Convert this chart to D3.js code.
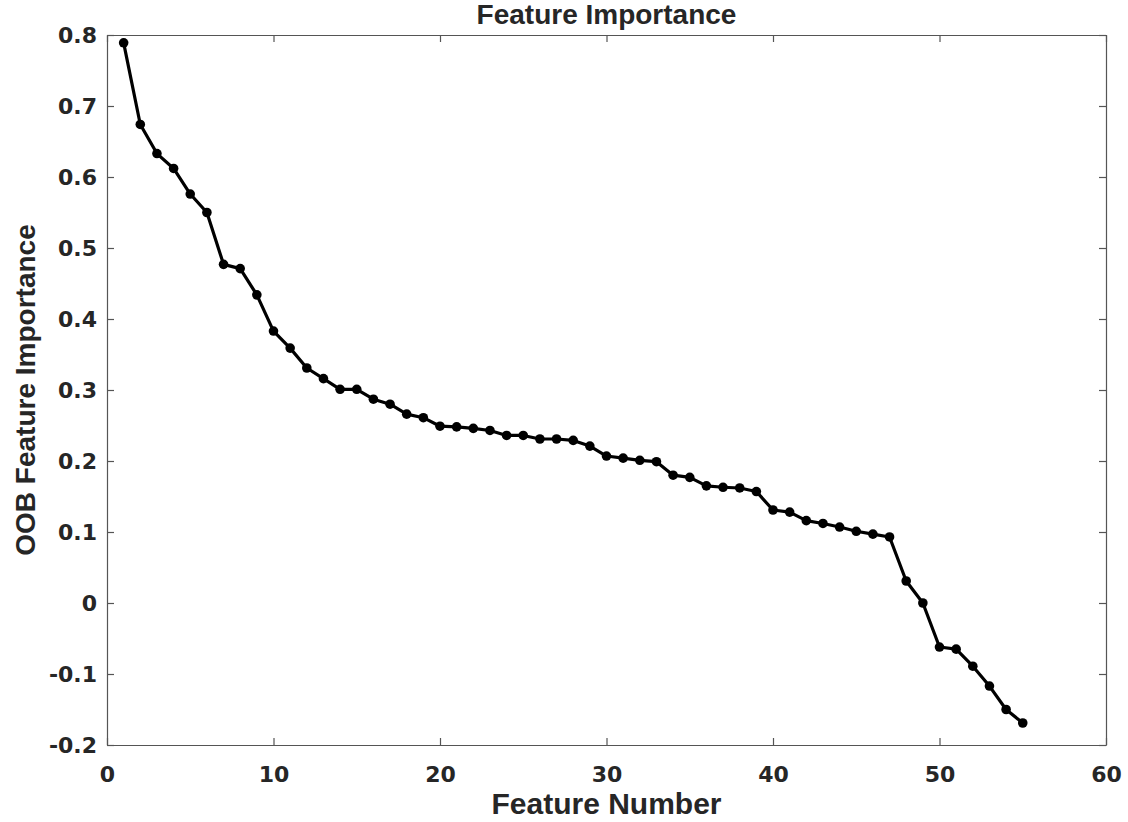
<!DOCTYPE html>
<html>
<head>
<meta charset="utf-8">
<script src="https://cdn.jsdelivr.net/npm/d3@7"></script>
<style>
  body { margin: 0; background: #fff; }
  .tick text { font-family: 'DejaVu Sans', sans-serif; font-weight: bold; font-size: 22px; fill: #262626; }
  .lbl { font-family: 'Liberation Sans', Arial, sans-serif; font-weight: bold; fill: #262626; }
</style>
</head>
<body>
<svg id="chart"></svg>
<script>
// feature numbers and their OOB importance
const featureNumbers = [1, 2, 3, 4, 5, 6, 7, 8, 9, 10, 11, 12, 13, 14, 15, 16, 17, 18, 19, 20,
  21, 22, 23, 24, 25, 26, 27, 28, 29, 30, 31, 32, 33, 34, 35, 36, 37, 38, 39, 40,
  41, 42, 43, 44, 45, 46, 47, 48, 49, 50, 51, 52, 53, 54, 55];
const importance = [0.789, 0.674, 0.633, 0.612, 0.576, 0.550, 0.477, 0.471, 0.434, 0.383,
  0.359, 0.331, 0.316, 0.301, 0.301, 0.287, 0.280, 0.266, 0.261, 0.249,
  0.248, 0.246, 0.243, 0.236, 0.236, 0.231, 0.231, 0.229, 0.221, 0.207,
  0.204, 0.201, 0.199, 0.180, 0.177, 0.165, 0.163, 0.162, 0.157, 0.131,
  0.128, 0.116, 0.112, 0.107, 0.101, 0.097, 0.093, 0.031, 0.000, -0.062,
  -0.065, -0.089, -0.117, -0.150, -0.169];

const xTicks = [0, 10, 20, 30, 40, 50, 60];
const yTicks = [-0.2, -0.1, 0, 0.1, 0.2, 0.3, 0.4, 0.5, 0.6, 0.7, 0.8];
const yTickLabels = ['-0.2', '-0.1', '0', '0.1', '0.2', '0.3', '0.4', '0.5', '0.6', '0.7', '0.8'];

// set the dimensions and margins of the graph
var margin = { top: 35, right: 22, bottom: 77, left: 107 },
  W = 1128, H = 822,
  width = W - margin.left - margin.right,
  height = H - margin.top - margin.bottom;

const svg = d3.select('#chart').attr('width', W).attr('height', H);
const g = svg.append('g').attr('transform', `translate(${margin.left},${margin.top})`);

const x = d3.scaleLinear().domain([0, 60]).range([0, width]);
const y = d3.scaleLinear().domain([-0.2, 0.8]).range([height, 0]);

// axes box, ticks pointing inward like MATLAB
function styleAxis(sel) {
  sel.select('.domain').attr('stroke', '#555').attr('stroke-width', 1.2);
  sel.selectAll('.tick line').attr('stroke', '#555').attr('stroke-width', 1.2);
}
g.append('g').attr('transform', `translate(0,${height})`)
  .call(d3.axisBottom(x).tickValues(xTicks).tickSizeInner(-7).tickSizeOuter(0).tickPadding(21))
  .call(styleAxis);
g.append('g')
  .call(d3.axisTop(x).tickValues(xTicks).tickSizeInner(-7).tickSizeOuter(0).tickFormat(''))
  .call(styleAxis);
g.append('g')
  .call(d3.axisLeft(y).tickValues(yTicks).tickSizeInner(-7).tickSizeOuter(0).tickPadding(10)
    .tickFormat((d, i) => yTickLabels[i]))
  .call(styleAxis);
g.append('g').attr('transform', `translate(${width},0)`)
  .call(d3.axisRight(y).tickValues(yTicks).tickSizeInner(-7).tickSizeOuter(0).tickFormat(''))
  .call(styleAxis);
g.selectAll('.tick text').attr('fill', '#262626');

const pts = featureNumbers.map((f, i) => ({ f: f, v: importance[i] }));

// line + markers
const line = d3.line().x(d => x(d.f)).y(d => y(d.v));
g.append('path').datum(pts)
  .attr('d', line)
  .attr('fill', 'none')
  .attr('stroke', '#000')
  .attr('stroke-width', 3.2)
  .attr('stroke-linejoin', 'round');

g.selectAll('circle').data(pts).enter().append('circle')
  .attr('cx', d => x(d.f))
  .attr('cy', d => y(d.v))
  .attr('r', 4.8)
  .attr('fill', '#000');

// labels
svg.append('text').attr('class', 'lbl').style('font-size', '28px')
  .attr('x', margin.left + width / 2).attr('y', 24)
  .attr('text-anchor', 'middle').text('Feature Importance');
svg.append('text').attr('class', 'lbl').style('font-size', '30px')
  .attr('x', margin.left + width / 2).attr('y', 814)
  .attr('text-anchor', 'middle').text('Feature Number');
svg.append('text').attr('class', 'lbl').style('font-size', '28px')
  .attr('transform', `translate(35,${margin.top + height / 2}) rotate(-90)`)
  .attr('text-anchor', 'middle').text('OOB Feature Importance');
</script>
</body>
</html>
